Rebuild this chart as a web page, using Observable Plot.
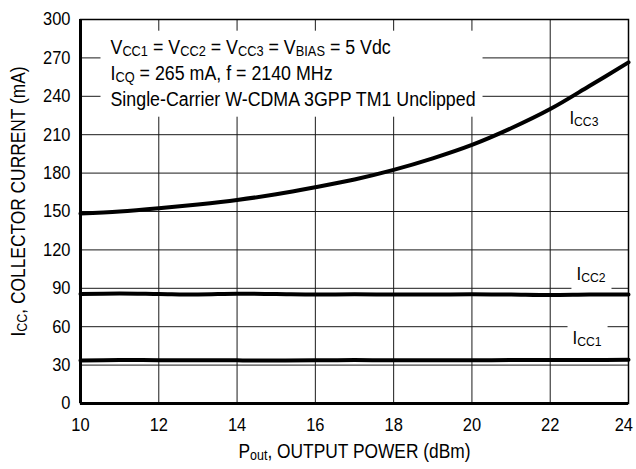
<!DOCTYPE html>
<html><head><meta charset="utf-8">
<script src="https://cdn.jsdelivr.net/npm/d3@7"></script>
<script src="https://cdn.jsdelivr.net/npm/@observablehq/plot@0.6"></script>
<style>
html,body{margin:0;padding:0;background:#fff;}
</style></head><body><div id="chart"></div>
<script>
const power = [10,11,12,13,14,15,16,17,18,19,20,21,22,23,24];
const icc3 = [148.4,150,152.5,155.5,159,163.5,169,175,182.5,191.5,202,215,230,248,266.5];
const icc2 = [85.6,86,85.6,85.2,85.8,85.5,85.1,85.4,85.1,85.1,85.4,85.1,84.7,85.1,85.2];
const icc1 = [33.6,34,33.8,33.8,33.7,33.6,33.8,33.9,33.8,33.8,33.8,33.9,33.9,34,34.1];
const xTicks = [10,12,14,16,18,20,22,24];
const yTicks = [0,30,60,90,120,150,180,210,240,270,300];
const seriesNames = ["I_{CC3}","I_{CC2}","I_{CC1}"];
const labelX = [22.49,22.67,22.57];
const labelY = [223.4,101.2,51.2];
const annotationLines = [
  "V_{CC1} = V_{CC2} = V_{CC3} = V_{BIAS} = 5 Vdc",
  "I_{CQ} = 265 mA, f = 2140 MHz",
  "Single-Carrier W-CDMA 3GPP TM1 Unclipped"
];
const xLabel = "P_{out}, OUTPUT POWER (dBm)";
const yLabel = "I_{CC}, COLLECTOR CURRENT (mA)";

const series = [icc3, icc2, icc1];
const rows = [];
series.forEach((vals, k) => power.forEach((p, i) => rows.push({p, v: vals[i], s: seriesNames[k]})));
const labelRows = seriesNames.map((n, i) => ({x: labelX[i], y: labelY[i], text: n}));

const FONT = "'Liberation Sans', Arial, sans-serif";
const SQUEEZE = 0.89;

const chart = Plot.plot({
  width: 636, height: 469,
  marginLeft: 80, marginRight: 8, marginTop: 19, marginBottom: 66,
  style: {fontFamily: FONT, fontSize: "18.5px", color: "black", background: "white"},
  x: {domain: [10, 24], label: null},
  y: {domain: [0, 300], label: null},
  marks: [
    Plot.ruleY(yTicks, {stroke: "#1a1a1a", strokeWidth: 1}),
    Plot.ruleX(xTicks, {stroke: "#1a1a1a", strokeWidth: 1}),
    ...annotationLines.map((line, i) => Plot.text([line], {text: d => d, frameAnchor: "top-left", dx: 30, dy: 20 + 26 * i, lineAnchor: "top", textAnchor: "start", fontSize: 20, fill: "black"})),
    Plot.text(labelRows, {x: "x", y: "y", text: "text", textAnchor: "start", fontSize: 19, fill: "black"}),
    Plot.line(rows, {x: "p", y: "v", z: "s", stroke: "black", strokeWidth: 4, curve: "catmull-rom"}),
    Plot.frame({stroke: "black", strokeWidth: 1.5}),
    Plot.ruleX([10], {stroke: "black", strokeWidth: 3}),
    Plot.ruleY([0], {stroke: "black", strokeWidth: 3}),
    Plot.axisX({ticks: xTicks, tickSize: 0, tickPadding: 14, fontSize: 18.5}),
    Plot.axisY({ticks: yTicks, tickSize: 0, tickPadding: 10, fontSize: 18.5}),
    Plot.text([xLabel], {text: d => d, frameAnchor: "bottom", dy: 54, fontSize: 19.5, fill: "black"}),
    Plot.text([yLabel], {text: d => d, frameAnchor: "left", textAnchor: "middle", dx: -62, dy: -10, rotate: -90, fontSize: 19.5, fill: "black"})
  ]
});
document.getElementById("chart").appendChild(chart);

const ns = "http://www.w3.org/2000/svg";
function parseSegs(str) {
  const segs = []; const re = /_\{([^}]*)\}/g; let last = 0, m;
  while ((m = re.exec(str))) {
    if (m.index > last) segs.push({t: str.slice(last, m.index), sub: false});
    segs.push({t: m[1], sub: true}); last = re.lastIndex;
  }
  if (last < str.length) segs.push({t: str.slice(last), sub: false});
  return segs;
}
function applySubs(el) {
  const str = el.textContent; if (!str.includes("_{")) return;
  el.textContent = "";
  parseSegs(str).forEach(s => {
    const ts = document.createElementNS(ns, "tspan");
    ts.textContent = s.t;
    if (s.sub) { ts.setAttribute("font-size", "72%"); ts.style.baselineShift = "-2px"; }
    el.appendChild(ts);
  });
}
const texts = Array.from(chart.querySelectorAll("text"));
const isAnnot = t => annotationLines.some(a => t.textContent === a);
const isBoxedLabel = t => t.textContent === seriesNames[1] || t.textContent === seriesNames[2];
const annotTexts = texts.filter(isAnnot);
const labelTexts = texts.filter(isBoxedLabel);
texts.forEach(applySubs);
texts.forEach(t => {
  const len = t.getComputedTextLength();
  t.setAttribute("textLength", (len * SQUEEZE).toFixed(2));
  t.setAttribute("lengthAdjust", "spacingAndGlyphs");
});

const svgRect = chart.getBoundingClientRect();
function topChild(el) { while (el.parentNode !== chart) el = el.parentNode; return el; }
function addBox(els, pl, pr, pt, pb) {
  let x0 = Infinity, y0 = Infinity, x1 = -Infinity, y1 = -Infinity;
  els.forEach(e => { const r = e.getBoundingClientRect(); x0 = Math.min(x0, r.left); y0 = Math.min(y0, r.top); x1 = Math.max(x1, r.right); y1 = Math.max(y1, r.bottom); });
  const r = document.createElementNS(ns, "rect");
  r.setAttribute("x", x0 - svgRect.left - pl); r.setAttribute("y", y0 - svgRect.top - pt);
  r.setAttribute("width", x1 - x0 + pl + pr); r.setAttribute("height", y1 - y0 + pt + pb);
  r.setAttribute("fill", "white");
  chart.insertBefore(r, topChild(els[0]));
}
if (annotTexts.length) addBox(annotTexts, 10, 7, 5, 7);
labelTexts.forEach(t => addBox([t], 5, 6, 4, 4));

// keep the last x tick label inside the picture
texts.forEach(t => {
  const r = t.getBoundingClientRect();
  const over = r.right - svgRect.right;
  if (over > 0) {
    const cur = t.getAttribute("dx") ? parseFloat(t.getAttribute("dx")) : 0;
    t.setAttribute("dx", cur - over - 3);
  }
});
</script></body></html>
